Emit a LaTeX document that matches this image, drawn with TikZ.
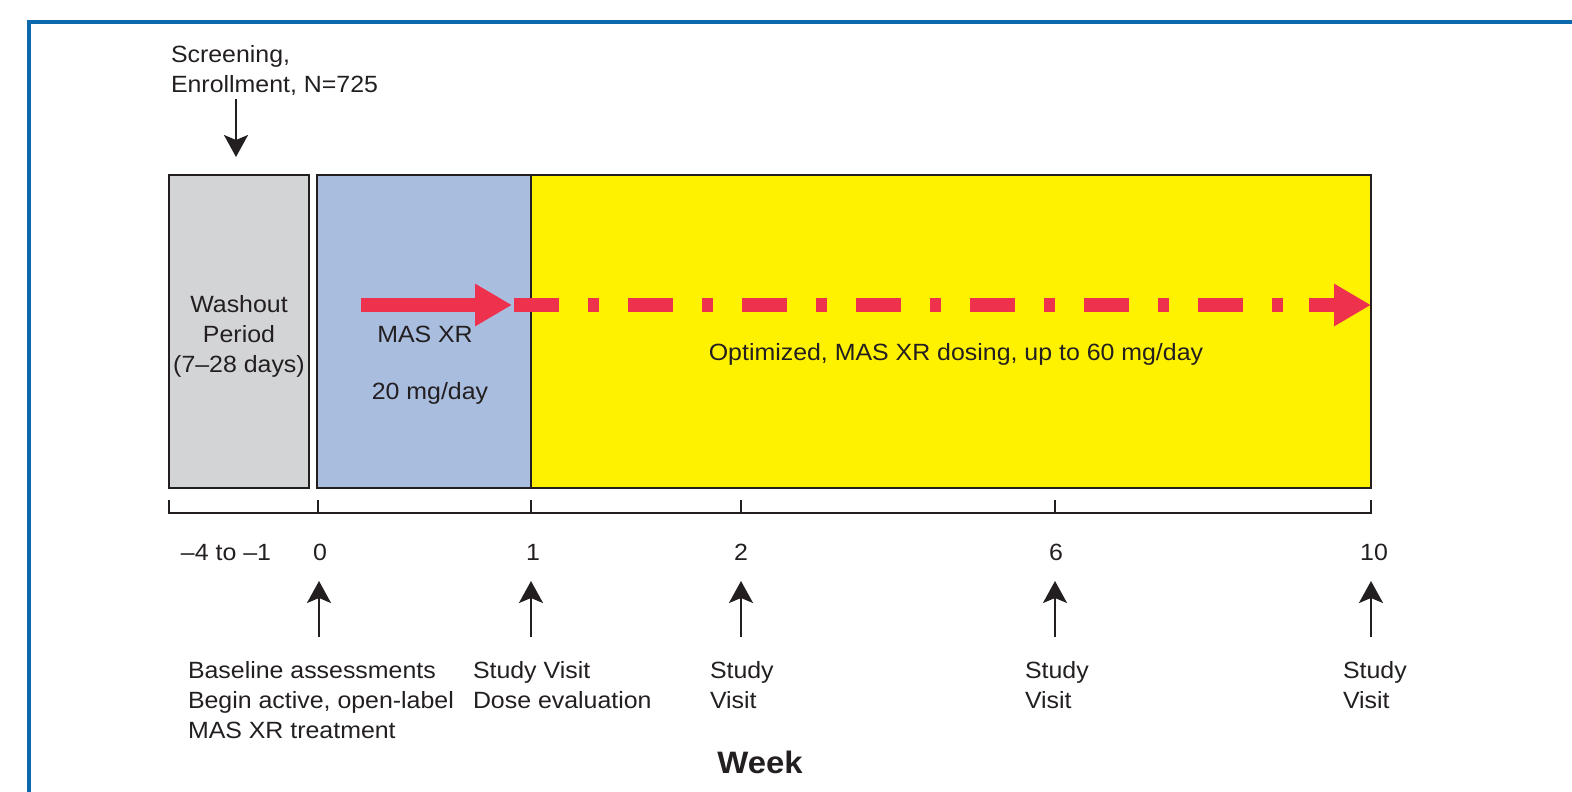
\documentclass[tikz,border=0pt]{standalone}
\usepackage{fontspec}
\setmainfont[FakeStretch=1.06]{Liberation Sans}
\usetikzlibrary{arrows.meta}
\definecolor{frameblue}{RGB}{14,104,172}
\definecolor{inkdark}{RGB}{35,31,32}
\definecolor{washgray}{RGB}{211,212,214}
\definecolor{masblue}{RGB}{169,189,223}
\definecolor{optyellow}{RGB}{255,242,0}
\definecolor{dosered}{RGB}{238,50,78}
\begin{document}
\begin{tikzpicture}[x=1pt,y=-1pt,
  every node/.style={inner sep=0pt,outer sep=0pt,text=inkdark,font=\fontsize{23.5}{30}\selectfont},
  phasebox/.style={draw=inkdark,line width=2.4pt},
  blackarrow/.style={draw=inkdark,line width=2.2pt,-{Stealth[width=24pt,length=22pt,inset=5pt]}},
  axisline/.style={draw=inkdark,line width=2.4pt},
  redline/.style={draw=dosered,line width=14pt},
  redhead/.style={redline,-{Triangle[width=40pt,length=37pt]}},
  reddash/.style={redline,dash pattern=on 45pt off 29pt on 11pt off 29pt},
  lbl/.style={anchor=base west},
  lblc/.style={anchor=base},
  multi/.style={align=left,anchor=north west}]
\useasboundingbox (0,0) rectangle (1572,792);
% frame
\draw[frameblue,line width=4pt] (29,792) -- (29,22) -- (1572,22);
% phases
\draw[phasebox,fill=washgray] (169,175) rectangle (309,488);
\draw[phasebox,fill=masblue] (317,175) rectangle (531,488);
\draw[phasebox,fill=optyellow] (531,175) rectangle (1371,488);
\node[align=center] (wash) at (239,336) {Washout\\Period\\(7–28 days)};
\node[lblc] (mas) at (425,342) {MAS XR};
\node[lblc] (dose) at (430,399) {20 mg/day};
\node[lblc] (opt) at (956,360) {Optimized, MAS XR dosing, up to 60 mg/day};
% red arrows
\coordinate (r0) at (361,305);
\coordinate (r1) at (512,305);
\coordinate (d0) at (514,305);
\coordinate (d1) at (1292,305);
\coordinate (e0) at (1309,305);
\coordinate (e1) at (1371,305);
\draw[redhead] (r0) -- (r1);
\draw[reddash] (d0) -- (d1);
\draw[redhead] (e0) -- (e1);
% screening
\node[multi] (scr) at (171,45) {Screening,\\Enrollment, N=725};
\coordinate (s0) at (236,99);
\coordinate (s1) at (236,157);
\draw[blackarrow] (s0) -- (s1);
% axis
\draw[axisline] (169,500) -- (169,513) -- (1371,513) -- (1371,500);
\foreach \t in {318,531,741,1055} \draw[axisline] (\t,500) -- (\t,513);
% tick labels
\node[lblc] (tm) at (226,560) {–4 to –1};
\node[lblc] (t0) at (320,560) {0};
\node[lblc] (t1) at (533,560) {1};
\node[lblc] (t2) at (741,560) {2};
\node[lblc] (t6) at (1056,560) {6};
\node[lblc] (t10) at (1374,560) {10};
% visit arrows
\foreach \x/\n in {319/a,531/b,741/c,1055/d,1371/e}{
  \coordinate (u\n0) at (\x,637);
  \coordinate (u\n1) at (\x,581);
  \draw[blackarrow] (u\n0) -- (u\n1);
}
% visit labels
\node[multi] (v0) at (188,661) {Baseline assessments\\Begin active, open-label\\MAS XR treatment};
\node[multi] (v1) at (473,661) {Study Visit\\Dose evaluation};
\node[multi] (v2) at (710,661) {Study\\Visit};
\node[multi] (v6) at (1025,661) {Study\\Visit};
\node[multi] (v10) at (1343,661) {Study\\Visit};
\node[anchor=base,font=\fontsize{31}{36}\selectfont\bfseries] (week) at (760,773) {Week};
\end{tikzpicture}
\end{document}
